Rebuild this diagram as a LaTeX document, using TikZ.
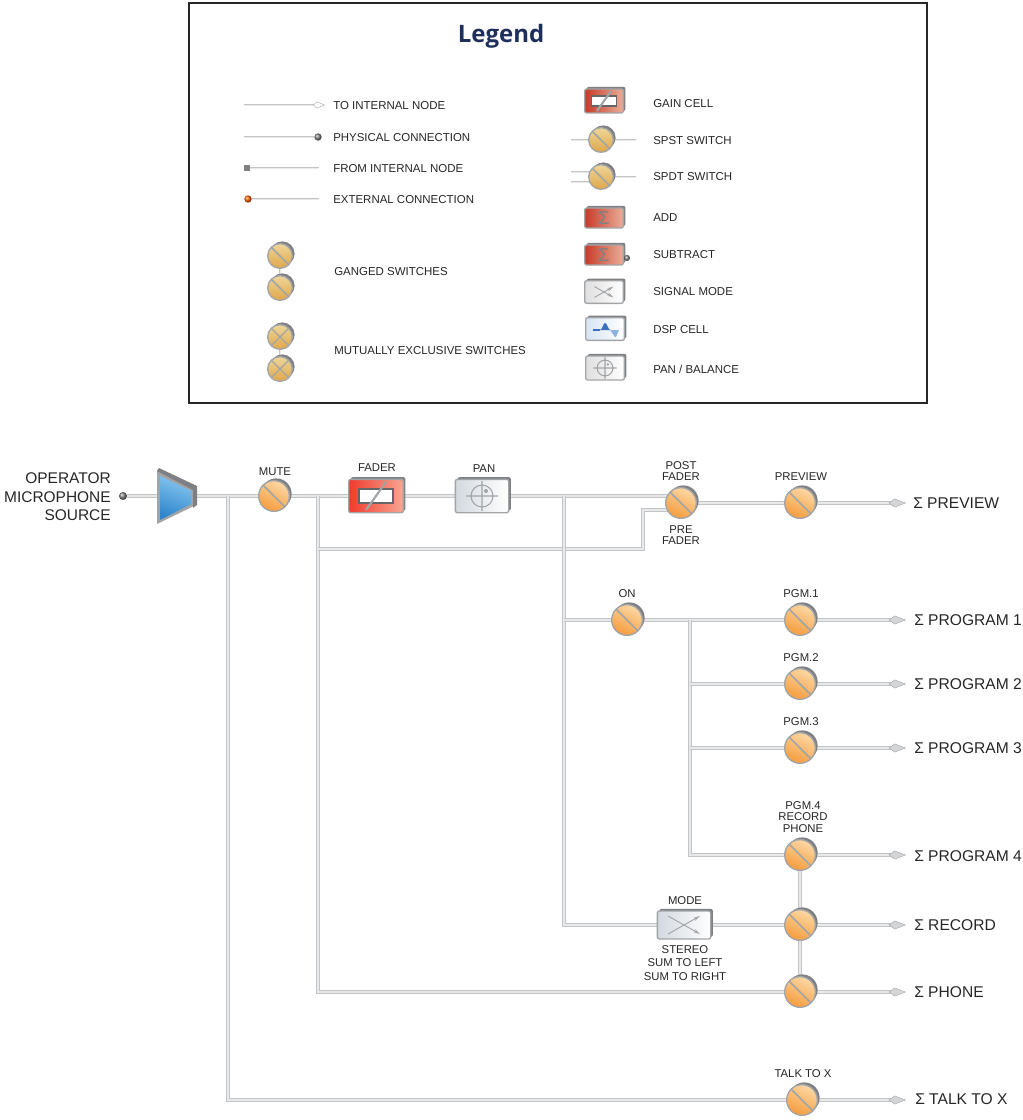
\documentclass[tikz,border=0pt]{standalone}
\usepackage{fontspec}
\setmainfont{Liberation Sans}
\newfontfamily\titlefont{Open Sans}
\usetikzlibrary{arrows.meta,shadows,backgrounds}

\definecolor{framegray}{HTML}{A2A5A8}
\definecolor{shadegray}{HTML}{7E8083}
\definecolor{wireedge}{HTML}{C2C4C6}
\definecolor{wirecore}{HTML}{E8E9EA}
\definecolor{tipgray}{HTML}{D4D5D7}
\definecolor{titleblue}{HTML}{1F2F5C}
\definecolor{swtop}{HTML}{FCD8A4}
\definecolor{swbot}{HTML}{F59C3E}
\definecolor{legtop}{HTML}{EDD698}
\definecolor{legbot}{HTML}{E0A64A}
\definecolor{ampA}{HTML}{86C6F0}
\definecolor{ampB}{HTML}{2F86CC}
\definecolor{redA}{HTML}{EF3B2C}
\definecolor{redB}{HTML}{F9A593}
\definecolor{legredA}{HTML}{C63B28}
\definecolor{legredB}{HTML}{E9AE98}
\definecolor{coldA}{HTML}{D3D9E0}
\definecolor{dspA}{HTML}{3B6FC0}
\definecolor{dspB}{HTML}{8FB3E0}

\tikzset{
  x=0.75pt, y=-0.75pt,
  txt/.style={inner sep=0pt, yshift=-0.75pt, font=\fontsize{8.5}{8.8}\selectfont, text=black!85, align=center},
  legtxt/.style={inner sep=0pt, yshift=-0.75pt, anchor=west, font=\fontsize{8.6}{9}\selectfont, text=black!85},
  bigtxt/.style={inner sep=0pt, anchor=west, font=\fontsize{11.7}{14}\selectfont, text=black!85},
  wire/.style={draw=wireedge, line width=0.65pt, double=wirecore, double distance=1.3pt},
  outwire/.style={wire, -{Kite[length=13pt, width=6.5pt, inset=4.5pt, fill=tipgray, color=framegray, line width=0.3pt]}},
  thinwire/.style={draw=wireedge, line width=0.55pt, double=wirecore, double distance=0.6pt},
  legarrow/.style={thinwire, -{Kite[length=9pt, width=5pt, inset=3pt, fill=white, color=framegray, line width=0.3pt]}},
  sw/.style={circle, draw=framegray, line width=1pt, inner sep=0pt, minimum size=23pt,
    top color=swtop, bottom color=swbot, shading angle=-25,
    general shadow={fill=shadegray, shadow xshift=1.7pt, shadow yshift=1.7pt},
    path picture={\draw[framegray, line width=1.1pt]
      (path picture bounding box.north west) -- (path picture bounding box.south east);}},
  legsw/.style={sw, top color=legtop, bottom color=legbot, minimum size=18.5pt},
  xsw/.style={legsw, path picture={
    \draw[framegray, line width=0.9pt]
      (path picture bounding box.north west) -- (path picture bounding box.south east)
      (path picture bounding box.south west) -- (path picture bounding box.north east);}},
  cell/.style={rectangle, draw=framegray, line width=1pt, rounded corners=1.5pt, inner sep=0pt,
    minimum width=#1, minimum height=25pt,
    general shadow={fill=shadegray, shadow xshift=1.6pt, shadow yshift=1.6pt}},
  redcell/.style={cell=41pt, left color=redA, right color=redB},
  greycell/.style={cell=40pt, left color=coldA, right color=white},
  legred/.style={cell=29pt, minimum height=#1, left color=legredA, right color=legredB},
  leggrey/.style={cell=29pt, minimum height=17pt, left color=gray!25, right color=white},
  ball/.style={circle, inner sep=0pt, minimum size=#1, ball color=gray},
  ball/.default=6pt,
  sigmatxt/.style={text=shadegray, font=\fontsize{14}{14}\selectfont},
  pics/faderglyph/.style={code={
    \draw[fill=white, draw=black!60, line width=1pt] (-17,-7) rectangle (17,7);
    \draw[framegray, line width=1.6pt] (-10,14) -- (10,-14);}},
  pics/panglyph/.style={code={
    \draw[framegray, line width=0.8pt] (0,0) circle (11) (-16,0) -- (16,0) (0,-15) -- (0,15);
    \fill[framegray] (4,-5) circle (2);}},
  pics/modeglyph/.style={code={
    \draw[framegray, line width=0.7pt, -{Stealth[length=5pt, width=2.5pt]}] (-16,-9) -- (16,9);
    \draw[framegray, line width=0.7pt, -{Stealth[length=5pt, width=2.5pt]}] (-16,9) -- (16,-9);}},
  pics/dspglyph/.style={code={
    \draw[dspA, line width=0.9pt] (-12,1) -- (-5,1);
    \fill[dspA] (-5,1) .. controls (-2,0) and (-2,-6) .. (0,-6) .. controls (2,-6) and (3,0) .. (5,1) -- cycle;
    \fill[dspB] (5,1) -- (14,1) -- (11,8) -- (10,8) -- cycle;}},
}

\begin{document}
\begin{tikzpicture}
  \useasboundingbox (0,0) rectangle (1022,1120);

  % legend
  \node[draw=black!85, line width=1.9pt, minimum width=553.5pt, minimum height=300pt, inner sep=0pt] (legendbox) at (558,203) {};
  \node[inner sep=0pt, text=titleblue, font=\titlefont\bfseries\fontsize{18}{20}\selectfont] (legendtitle) at (501,36) {Legend};

  \coordinate (toA) at (244,105);   \coordinate (toB) at (325,105);
  \coordinate (phA) at (244,137);   \node[ball=5.5pt] (phB) at (318,137) {};
  \node[rectangle, fill=gray, minimum size=4.5pt, inner sep=0pt] (frA) at (247,168) {}; \coordinate (frB) at (319,168);
  \node[ball=5.5pt, ball color=orange!70!red] (exA) at (248,199) {}; \coordinate (exB) at (319,199);
  \node[legtxt] (toT) at (333,105) {TO INTERNAL NODE};
  \node[legtxt] (phT) at (333,137) {PHYSICAL CONNECTION};
  \node[legtxt] (frT) at (333,168) {FROM INTERNAL NODE};
  \node[legtxt] (exT) at (333,199) {EXTERNAL CONNECTION};

  \node[legsw] (gangA) at (280,256) {};
  \node[legsw] (gangB) at (280,288) {};
  \node[legtxt] (gangT) at (334,271) {GANGED SWITCHES};
  \node[xsw] (mutexA) at (280,337) {};
  \node[xsw] (mutexB) at (280,369) {};
  \node[legtxt] (mutexT) at (334,350) {MUTUALLY EXCLUSIVE SWITCHES};

  \node[legred=18pt] (gainL) at (604,101) {};
  \pic[scale=.72] at (gainL) {faderglyph};
  \node[legtxt] (gainT) at (653,103) {GAIN CELL};
  \node[legsw] (spstL) at (601,140) {};
  \coordinate (spstA) at (571,140); \coordinate (spstB) at (636,140);
  \node[legtxt] (spstT) at (653,140) {SPST SWITCH};
  \node[legsw] (spdtL) at (601,177) {};
  \coordinate (spdtA) at (571,172); \coordinate (spdtB) at (571,182); \coordinate (spdtC) at (636,177);
  \node[legtxt] (spdtT) at (653,176) {SPDT SWITCH};
  \node[legred=15pt, sigmatxt] (addL) at (604,218) {Σ};
  \node[legtxt] (addT) at (653,217) {ADD};
  \node[legred=15pt, sigmatxt] (subL) at (604,255) {Σ};
  \node[ball=4.5pt] (subD) at (627,258) {};
  \node[legtxt] (subT) at (653,254) {SUBTRACT};
  \node[leggrey] (modeL) at (604,292) {};
  \pic[scale=.6] at (modeL) {modeglyph};
  \node[legtxt] (modeT) at (653,291) {SIGNAL MODE};
  \node[leggrey, left color=dspB!35!white] (dspL) at (605,329) {};
  \pic at (dspL) {dspglyph};
  \node[legtxt] (dspT) at (653,329) {DSP CELL};
  \node[leggrey, minimum height=18pt] (panL) at (605,368) {};
  \pic[scale=.72] at (panL) {panglyph};
  \node[legtxt] (panT) at (653,368) {PAN / BALANCE};

  % signal path
  \node[txt, text width=100pt, align=right, anchor=east, font=\fontsize{11.6}{13.9}\selectfont] (srcT) at (111,496) {OPERATOR\\MICROPHONE\\SOURCE};
  \node[ball] (mic) at (123,496) {};

  \fill[framegray] (157,470) -- (196,488) -- (196,505) -- (157,524) -- cycle;
  \fill[shadegray] (157,471) -- (159,468) -- (197,486) -- (197,505) -- (193,508) -- (193,490) -- cycle;
  \shade[top color=ampA, bottom color=ampB, shading angle=-20]
    (160,476) -- (191,491) -- (191,504) -- (160,520) -- cycle;
  \coordinate (ampIn) at (157,496);
  \coordinate (ampOut) at (196,496);

  \node[sw] (mute) at (274,496) {};
  \node[txt] (muteT) at (275,471) {MUTE};
  \node[redcell] (fader) at (376,496) {};
  \pic at (fader) {faderglyph};
  \node[txt] (faderT) at (377,467) {FADER};
  \node[greycell] (pan) at (482,496) {};
  \pic at (pan) {panglyph};
  \node[txt] (panlab) at (484,468) {PAN};

  \node[sw] (post) at (681,503) {};
  \node[txt] (postT) at (681,470) {POST\\FADER};
  \node[txt] (preT) at (681,534) {PRE\\FADER};
  \node[sw] (preview) at (800,503) {};
  \node[txt] (previewT) at (801,476) {PREVIEW};
  \node[sw] (on) at (627,620) {};
  \node[txt] (onT) at (627,593) {ON};
  \node[sw] (pgmA) at (800,620) {};
  \node[txt] (pgmAT) at (801,593) {PGM.1};
  \node[sw] (pgmB) at (800,684) {};
  \node[txt] (pgmBT) at (801,657) {PGM.2};
  \node[sw] (pgmC) at (800,748) {};
  \node[txt] (pgmCT) at (801,721) {PGM.3};
  \node[sw] (pgmD) at (800,855) {};
  \node[txt] (pgmDT) at (803,816) {PGM.4\\RECORD\\PHONE};
  \node[sw] (rec) at (800,925) {};
  \node[sw] (phone) at (800,992) {};
  \node[sw] (talk) at (802,1100) {};
  \node[txt] (talkT) at (803,1073) {TALK TO X};
  \node[greycell, minimum height=21pt] (mode) at (684,925) {};
  \pic at (mode) {modeglyph};
  \node[txt] (modeTop) at (685,900) {MODE};
  \node[txt, font=\fontsize{8.5}{10}\selectfont] (modeSub) at (685,962) {STEREO\\SUM TO LEFT\\SUM TO RIGHT};

  \node[bigtxt] (sumPreview) at (913,503) {Σ PREVIEW};
  \node[bigtxt] (sumA) at (914,620) {Σ PROGRAM 1};
  \node[bigtxt] (sumB) at (914,684) {Σ PROGRAM 2};
  \node[bigtxt] (sumC) at (914,748) {Σ PROGRAM 3};
  \node[bigtxt] (sumD) at (914,856) {Σ PROGRAM 4};
  \node[bigtxt] (sumRec) at (914,925) {Σ RECORD};
  \node[bigtxt] (sumPhone) at (914,992) {Σ PHONE};
  \node[bigtxt] (sumTalk) at (915,1099) {Σ TALK TO X};

  \coordinate (tapTalk) at (228,496);
  \coordinate (tapPre) at (318,496);
  \coordinate (preLow) at (318,549);
  \coordinate (preTurn) at (643,549);
  \coordinate (preIn) at (643,510);
  \coordinate (tapBus) at (564,496);
  \coordinate (tapOn) at (564,620);
  \coordinate (tapMode) at (564,925);
  \coordinate (tapPgm) at (690,620);
  \coordinate (postIn) at (681,496);
  \coordinate (endRail) at (906,0);

  \begin{scope}[on background layer]
    \draw[legarrow] (toA) -- (toB);
    \draw[thinwire] (phA) -- (phB);
    \draw[thinwire] (frA) -- (frB);
    \draw[thinwire] (exA) -- (exB);
    \draw[thinwire] (gangA) -- (gangB);
    \draw[thinwire] (mutexA) -- (mutexB);
    \draw[thinwire] (spstA) -- (spstB);
    \draw[thinwire] (spdtA) -- (spdtA -| spdtL);
    \draw[thinwire] (spdtB) -- (spdtB -| spdtL);
    \draw[thinwire] (spdtL) -- (spdtC);

    \draw[wire] (mic) -- (ampIn);
    \draw[wire] (ampOut) -- (mute);
    \draw[wire] (mute) -- (fader);
    \draw[wire] (fader) -- (pan);
    \draw[wire] (pan) -- (postIn);
    \draw[wire] (tapTalk) |- (talk);
    \draw[wire] (tapPre) |- (phone);
    \draw[wire] (preLow) -- (preTurn) -- (preIn) -- (preIn -| post);
    \draw[wire] (tapBus) -- (tapMode) -- (mode);
    \draw[wire] (tapOn) -- (on);
    \draw[wire] (on) -- (pgmA);
    \draw[wire] (tapPgm) |- (pgmD);
    \draw[wire] (tapPgm |- pgmB) -- (pgmB);
    \draw[wire] (tapPgm |- pgmC) -- (pgmC);
    \draw[wire] (mode) -- (rec);
    \draw[wire] (post) -- (preview);
    \draw[wire] (pgmD) -- (rec);
    \draw[wire] (rec) -- (phone);
    \draw[outwire] (preview) -- (preview -| endRail);
    \draw[outwire] (pgmA) -- (pgmA -| endRail);
    \draw[outwire] (pgmB) -- (pgmB -| endRail);
    \draw[outwire] (pgmC) -- (pgmC -| endRail);
    \draw[outwire] (pgmD) -- (pgmD -| endRail);
    \draw[outwire] (rec) -- (rec -| endRail);
    \draw[outwire] (phone) -- (phone -| endRail);
    \draw[outwire] (talk) -- (talk -| endRail);
  \end{scope}
\end{tikzpicture}
\end{document}
